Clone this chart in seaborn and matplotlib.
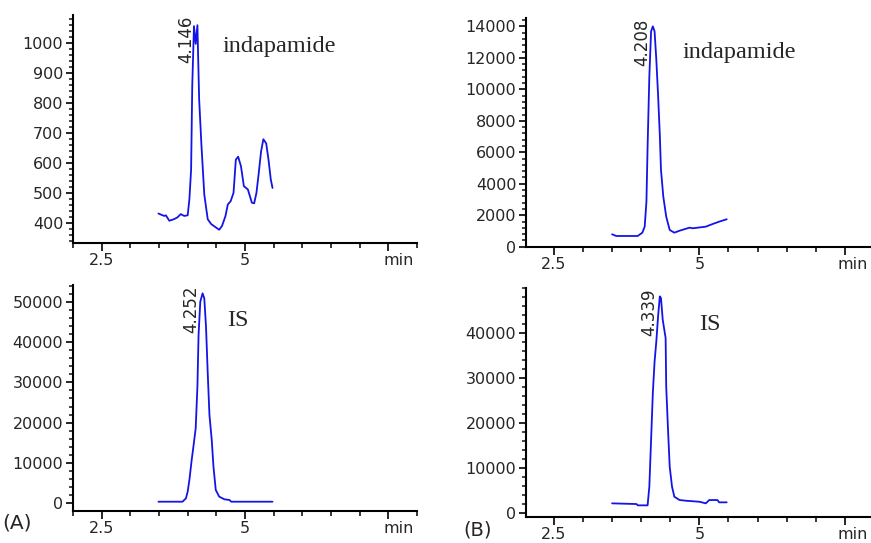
import numpy as np
import pandas as pd
import matplotlib
matplotlib.use("Agg")
import matplotlib.pyplot as plt
from matplotlib.ticker import MultipleLocator, FixedLocator
import seaborn as sns

sns.set_style("ticks")
plt.rcParams.update({
    "font.family": ["DejaVu Sans"],
    "font.size": 11.5,
})

# retention time (min) and intensity
a_top_t = [3.49, 3.59, 3.62, 3.68, 3.76, 3.82, 3.88, 3.94, 4.00, 4.03, 4.06, 4.08,
           4.11, 4.14, 4.17, 4.20, 4.24, 4.29, 4.35, 4.41, 4.49, 4.55, 4.60, 4.66,
           4.70, 4.75, 4.80, 4.84, 4.88, 4.93, 4.98, 5.05, 5.12, 5.16, 5.20, 5.24,
           5.28, 5.32, 5.37, 5.41, 5.45, 5.48]
a_top_v = [432, 424, 426, 408, 413, 419, 430, 424, 426, 479, 578, 857,
           1055, 996, 1058, 813, 660, 495, 413, 397, 386, 378, 391, 424,
           462, 473, 501, 611, 621, 589, 523, 512, 468, 466, 501, 567,
           638, 679, 665, 611, 545, 517]

b_top_t = [3.50, 3.57, 3.94, 4.02, 4.06, 4.09, 4.11, 4.14, 4.17, 4.20, 4.23, 4.26,
           4.29, 4.32, 4.34, 4.38, 4.43, 4.49, 4.57, 4.66, 4.83, 4.89, 5.11, 5.23,
           5.34, 5.47]
b_top_v = [789, 681, 681, 891, 1273, 2864, 6365, 10821, 13685, 14004, 13685, 11884,
           9656, 7110, 4882, 3183, 1910, 1063, 891, 1018, 1209, 1171, 1273, 1445,
           1591, 1744]

a_bot_t = [3.49, 3.91, 3.97, 4.00, 4.03, 4.07, 4.10, 4.14, 4.17, 4.19, 4.22, 4.26,
           4.29, 4.32, 4.35, 4.38, 4.42, 4.45, 4.49, 4.55, 4.64, 4.73, 4.76, 5.48]
a_bot_v = [397, 397, 1240, 2876, 5777, 10737, 14034, 18597, 28913, 41731, 49988, 52070,
           50830, 43789, 32234, 21894, 15696, 9076, 3306, 1653, 992, 818, 397, 397]

b_bot_t = [3.50, 3.92, 3.94, 4.11, 4.14, 4.17, 4.20, 4.23, 4.26, 4.29, 4.32, 4.34,
           4.37, 4.42, 4.43, 4.46, 4.49, 4.53, 4.57, 4.66, 4.77, 5.00, 5.11, 5.17,
           5.31, 5.34, 5.47]
b_bot_v = [2222, 2067, 1778, 1778, 5911, 16289, 26667, 33689, 38133, 43689, 48133, 47778,
           42956, 38889, 28133, 18889, 10356, 5911, 3689, 2956, 2800, 2578, 2222, 2956,
           2956, 2444, 2444]

peak_labels = ["4.146", "4.208", "4.252", "4.339"]
compound_labels = ["indapamide", "indapamide", "IS", "IS"]

W, H = 871, 543
fig = plt.figure(figsize=(W / 100, H / 100), dpi=100)

def box(left, top, right, bottom):
    return [left / W, 1 - bottom / H, (right - left) / W, (bottom - top) / H]

panels = [
    dict(t=a_top_t, v=a_top_v, rect=box(73, 15, 417, 243), xlim=(2.0, 8.0),
         ylim=(334, 1092), major=np.arange(400, 1001, 100), minor=20,
         peak=(3.97, 932), comp=(4.60, 986)),
    dict(t=b_top_t, v=b_top_v, rect=box(526, 18, 871, 246.7), xlim=(2.02, 7.95),
         ylim=(0, 14534), major=np.arange(0, 14001, 2000), minor=400,
         peak=(4.015, 11458), comp=(4.71, 12330)),
    dict(t=a_bot_t, v=a_bot_v, rect=box(73, 285, 417, 510.7), xlim=(2.0, 8.0),
         ylim=(-1835, 54140), major=np.arange(0, 50001, 10000), minor=2000,
         peak=(4.07, 42152), comp=(4.69, 45326)),
    dict(t=b_bot_t, v=b_bot_v, rect=box(526, 288, 871, 516.7), xlim=(2.02, 7.95),
         ylim=(-741, 50000), major=np.arange(0, 40001, 10000), minor=2000,
         peak=(4.13, 39244), comp=(5.0, 41956)),
]

for i, p in enumerate(panels):
    ax = fig.add_axes(p["rect"])
    df = pd.DataFrame({"time": p["t"], "intensity": p["v"]})
    sns.lineplot(data=df, x="time", y="intensity", ax=ax, color="#1414e6",
                 linewidth=1.3, sort=False, estimator=None)
    ax.set_xlim(*p["xlim"])
    ax.set_ylim(*p["ylim"])
    ax.set_xlabel("")
    ax.set_ylabel("")
    for s in ["top", "right"]:
        ax.spines[s].set_visible(False)
    for s in ["left", "bottom"]:
        ax.spines[s].set_linewidth(1.5)
        ax.spines[s].set_color("black")

    ax.xaxis.set_major_locator(FixedLocator([2.5, 5.0, 7.5]))
    ax.xaxis.set_minor_locator(MultipleLocator(0.5))
    ax.set_xticklabels(["2.5", "5", ""])
    ax.yaxis.set_major_locator(FixedLocator(p["major"]))
    ax.yaxis.set_minor_locator(MultipleLocator(p["minor"]))
    ax.tick_params(axis="x", which="major", direction="out", length=5.5, width=1.4,
                   pad=2, labelsize=11.5)
    ax.tick_params(axis="x", which="minor", direction="out", length=3.5, width=1.3)
    ax.tick_params(axis="y", which="major", direction="out", length=5, width=1.4,
                   pad=2, labelsize=11.5)
    ax.tick_params(axis="y", which="minor", direction="out", length=3, width=1.2)

    ax.annotate("min", xy=(1, 0), xycoords="axes fraction", xytext=(-2, -7.5),
                textcoords="offset points", ha="right", va="top", fontsize=11.5)
    ax.text(p["peak"][0], p["peak"][1], peak_labels[i], rotation=90,
            ha="center", va="bottom", fontsize=12)
    ax.text(p["comp"][0], p["comp"][1], compound_labels[i], ha="left", va="center",
            fontsize=17.5, family=["Liberation Serif", "DejaVu Serif"])

fig.text(2 / W, 1 - 523 / H, "(A)", ha="left", va="center", fontsize=14.5)
fig.text(463 / W, 1 - 530 / H, "(B)", ha="left", va="center", fontsize=14)

fig.savefig("out.png", dpi=100)
